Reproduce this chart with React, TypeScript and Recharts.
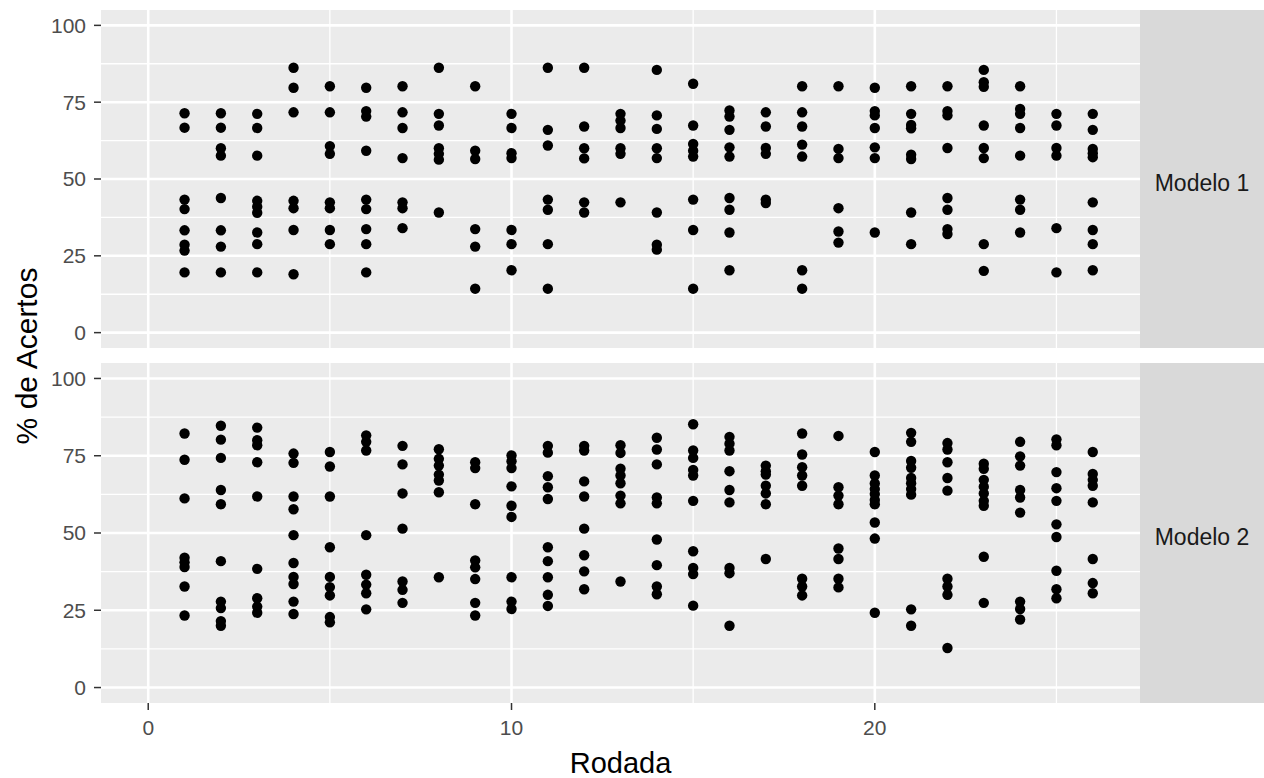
import React from 'react';
import { ScatterChart, Scatter, XAxis, YAxis, CartesianGrid, ReferenceLine } from 'recharts';

const rodadas = [1, 2, 3, 4, 5, 6, 7, 8, 9, 10, 11, 12, 13, 14, 15, 16, 17, 18, 19, 20, 21, 22, 23, 24, 25, 26];

const modelo1: number[][] = [
  [71.4, 66.7, 43.3, 40.2, 33.3, 28.6, 26.7, 19.6],
  [71.4, 66.7, 60, 57.6, 43.8, 33.3, 28, 19.6],
  [71.2, 66.6, 57.6, 42.9, 41, 39, 32.6, 28.8, 19.6],
  [86.2, 79.7, 71.7, 42.9, 40.5, 33.4, 19],
  [80.2, 71.7, 60.7, 58.2, 42.4, 40.5, 33.4, 28.8],
  [79.7, 72.1, 70.3, 59.2, 43.3, 40.2, 33.7, 28.8, 19.6],
  [80.2, 71.7, 66.6, 56.8, 42.4, 40.5, 34],
  [86.2, 71.2, 67.4, 60, 58.2, 56.3, 39.1],
  [80.2, 59.2, 56.5, 33.7, 28, 14.3],
  [71.2, 66.6, 58.4, 56.8, 33.4, 28.8, 20.3],
  [86.2, 66, 60.9, 43.3, 40, 28.8, 14.3],
  [86.2, 67.1, 60, 56.7, 42.4, 39.1],
  [71.2, 69, 66.6, 60, 58.2, 42.4],
  [85.5, 70.7, 66.3, 60, 56.8, 39.1, 28.6, 27],
  [81, 67.4, 61.4, 59.2, 57.3, 43.3, 33.4, 14.3],
  [72.3, 70.3, 66, 60.3, 57.3, 43.8, 40, 32.6, 20.3],
  [71.7, 67.1, 60.1, 58.2, 43.3, 42.2],
  [80.2, 71.7, 67.1, 61.2, 57.3, 20.3, 14.3],
  [80.2, 59.8, 56.8, 40.5, 32.9, 29.3],
  [79.7, 72.1, 70.7, 66.6, 60.3, 56.8, 32.6],
  [80.2, 71.2, 67.6, 66.5, 57.9, 56.5, 39.1, 28.8],
  [80.2, 72.1, 70.7, 60.1, 43.8, 40, 33.7, 32.1],
  [85.5, 81.5, 80, 67.4, 60.1, 56.8, 28.8, 20.1],
  [80.2, 72.8, 71.2, 66.6, 57.6, 43.3, 40, 32.6],
  [71.2, 67.4, 60.1, 57.6, 34, 19.6],
  [71.2, 66, 59.8, 58.4, 57.1, 42.4, 33.4, 28.8, 20.3],
];

const modelo2: number[][] = [
  [82.2, 73.7, 61.2, 42, 40.5, 39, 32.7, 23.3],
  [84.7, 80.2, 74.3, 63.9, 59.3, 40.9, 27.8, 25.7, 21.5, 20],
  [84.1, 80, 78.4, 72.9, 61.8, 38.4, 28.9, 26.2, 24.2],
  [75.7, 72.7, 61.8, 57.7, 49.3, 40.3, 35.8, 33.5, 27.8, 23.8],
  [76.2, 71.5, 61.8, 45.4, 35.8, 32.5, 29.8, 22.8, 21.1],
  [81.6, 79.5, 76.7, 49.3, 36.5, 33.3, 30.5, 25.3],
  [78.2, 72.2, 62.8, 51.4, 34.3, 31.6, 27.4],
  [77.1, 74, 71.8, 68.9, 67, 63.2, 35.7],
  [72.9, 71, 59.3, 41.1, 38.9, 35.1, 27.4, 23.3],
  [75.1, 73.2, 71, 65.1, 58.8, 55.2, 35.7, 27.8, 25.4],
  [78.2, 76, 68.4, 64.8, 61, 45.4, 40.9, 35.7, 30, 26.4],
  [78.2, 76.7, 66.7, 61.8, 51.4, 42.8, 37.6, 31.8],
  [78.4, 75.9, 70.8, 68.6, 66.1, 62.1, 59.6, 34.3],
  [80.8, 77, 72.2, 61.5, 59.6, 47.9, 39.6, 32.7, 30.2],
  [85.2, 76.7, 74.3, 70.4, 68.6, 60.4, 44.1, 38.7, 36.7, 26.5],
  [81.1, 78.9, 76.7, 70, 63.9, 59.9, 38.7, 37, 20],
  [71.8, 70, 68.9, 65.3, 62.8, 59.3, 41.6],
  [82.2, 75.4, 71.3, 68.6, 65.3, 35.2, 32.7, 29.8],
  [81.4, 64.8, 62.1, 59.3, 45, 41.6, 35.2, 32.4],
  [76.2, 68.6, 66, 64.2, 62.6, 60.7, 59.3, 53.4, 48.2, 24.2],
  [82.4, 79.5, 73.3, 71.1, 67.8, 66.1, 64.2, 62.4, 25.3, 20],
  [79.1, 77, 72.9, 67.8, 63.7, 35.2, 32.7, 30, 12.8],
  [72.4, 70.8, 67.2, 65, 62.8, 60.4, 58.8, 42.3, 27.4],
  [79.5, 74.8, 71.8, 63.9, 61.5, 56.6, 27.8, 25.4, 22],
  [80.3, 78.4, 69.7, 64.5, 60.4, 52.8, 48.7, 37.8, 31.8, 28.9],
  [76.2, 69.1, 67.2, 65.3, 59.9, 41.6, 33.8, 30.5],
];

const facetLabels = ['Modelo 1', 'Modelo 2'];
const xTicks = [0, 10, 20];
const yTicks = [0, 25, 50, 75, 100];
const xMinor = [5, 15, 25];
const yMinor = [12.5, 37.5, 62.5, 87.5];
const xTitle = 'Rodada';
const yTitle = '% de Acertos';

const FONT = 'Arial, "Liberation Sans", sans-serif';
const X_DOMAIN: [number, number] = [-1.3, 27.3];
const Y_DOMAIN: [number, number] = [-5, 105];

const toPoints = (rows: number[][]) =>
  rows.flatMap((vals, i) => vals.map((v) => ({ x: rodadas[i], y: v })));

const Dot = (props: any) => <circle cx={props.cx} cy={props.cy} r={5.2} fill="#000000" />;

function Panel({ data, showX, height, marginTop }: { data: { x: number; y: number }[]; showX: boolean; height: number; marginTop: number }) {
  return (
    <ScatterChart width={1140} height={height} margin={{ top: marginTop, right: 0, bottom: 0, left: 0 }}>
      <CartesianGrid fill="#EBEBEB" horizontal={false} vertical={false} stroke="none" />
      {yMinor.map((v) => (
        <ReferenceLine key={'ym' + v} y={v} stroke="#FFFFFF" strokeWidth={1.3} />
      ))}
      {xMinor.map((v) => (
        <ReferenceLine key={'xm' + v} x={v} stroke="#FFFFFF" strokeWidth={1.3} />
      ))}
      {yTicks.map((v) => (
        <ReferenceLine key={'yM' + v} y={v} stroke="#FFFFFF" strokeWidth={2.6} />
      ))}
      {xTicks.map((v) => (
        <ReferenceLine key={'xM' + v} x={v} stroke="#FFFFFF" strokeWidth={2.6} />
      ))}
      <XAxis
        type="number"
        dataKey="x"
        domain={X_DOMAIN}
        allowDataOverflow
        ticks={xTicks}
        interval={0}
        hide={!showX}
        height={75}
        axisLine={false}
        tickSize={7}
        tickMargin={10}
        tickLine={{ stroke: '#333333', strokeWidth: 1.5 }}
        tick={{ fill: '#4D4D4D', fontSize: 21, fontFamily: FONT }}
        label={showX ? { value: xTitle, position: 'insideBottom', offset: 5, fill: '#000000', fontSize: 29, fontFamily: FONT } : undefined}
      />
      <YAxis
        type="number"
        dataKey="y"
        domain={Y_DOMAIN}
        allowDataOverflow
        ticks={yTicks}
        interval={0}
        width={101}
        axisLine={false}
        tickSize={7}
        tickMargin={8}
        tickLine={{ stroke: '#333333', strokeWidth: 1.5 }}
        tick={{ fill: '#4D4D4D', fontSize: 21, fontFamily: FONT }}
      />
      <Scatter data={data} shape={<Dot />} isAnimationActive={false} />
    </ScatterChart>
  );
}

function Strip({ top, height, label }: { top: number; height: number; label: string }) {
  return (
    <svg width={124} height={height} style={{ position: 'absolute', left: 1140, top }}>
      <rect x={0} y={0} width={124} height={height} fill="#D9D9D9" />
      <text x={62} y={height / 2 + 12} textAnchor="middle" fill="#1A1A1A" fontSize={23} fontFamily={FONT}>
        {label}
      </text>
    </svg>
  );
}

export default function App() {
  const d1 = toPoints(modelo1);
  const d2 = toPoints(modelo2);
  return (
    <div style={{ position: 'absolute', left: 0, top: 0, width: 1264, height: 778, background: '#FFFFFF', overflow: 'hidden' }}>
      <div style={{ position: 'absolute', left: 0, top: 0 }}>
        <Panel data={d1} showX={false} height={348} marginTop={10} />
      </div>
      <div style={{ position: 'absolute', left: 0, top: 353 }}>
        <Panel data={d2} showX={true} height={425} marginTop={10} />
      </div>
      <Strip top={10} height={338} label={facetLabels[0]} />
      <Strip top={363} height={340} label={facetLabels[1]} />
      <svg width={60} height={778} style={{ position: 'absolute', left: 0, top: 0 }}>
        <text
          transform="translate(37, 356) rotate(-90)"
          textAnchor="middle"
          fill="#000000"
          fontSize={30}
          fontFamily={FONT}
        >
          {yTitle}
        </text>
      </svg>
    </div>
  );
}
